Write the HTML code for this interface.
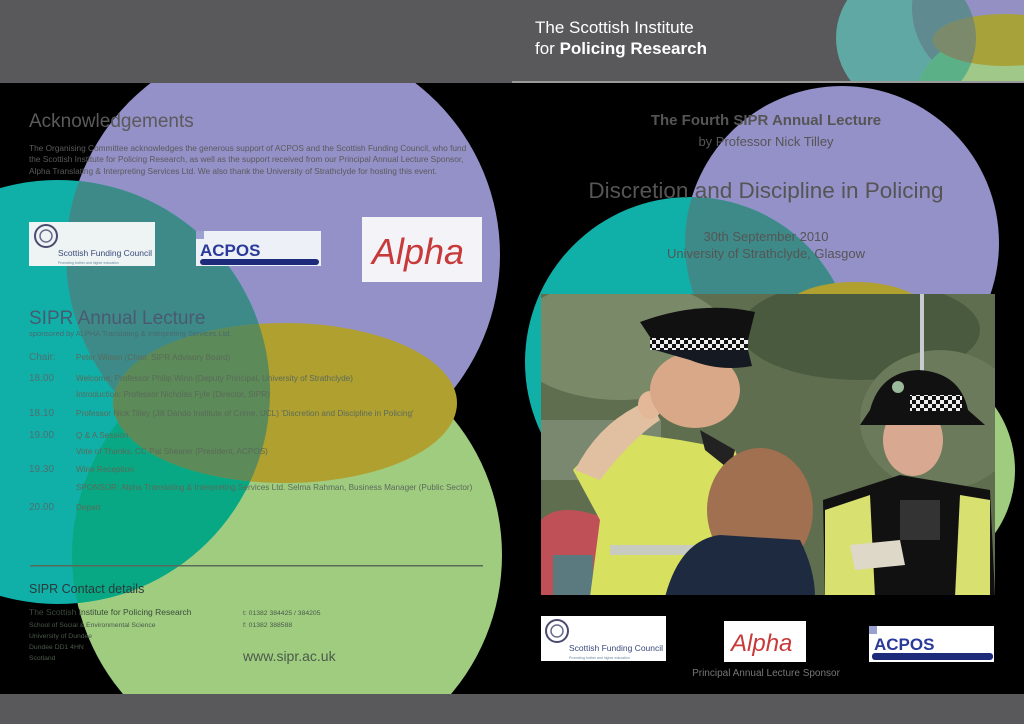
<!DOCTYPE html>
<html><head><meta charset="utf-8"><style>
html,body{margin:0;padding:0;background:#000;width:1024px;height:724px;overflow:hidden;}
svg{display:block;}
text{font-family:"Liberation Sans",sans-serif;}
</style></head><body>
<svg width="1024" height="724" viewBox="0 0 1024 724" xmlns="http://www.w3.org/2000/svg">
<defs>
<clipPath id="leftPage"><rect x="0" y="83" width="512" height="611"/></clipPath>
<clipPath id="cTeal"><circle cx="58" cy="392" r="212"/></clipPath>
<clipPath id="rightPage"><rect x="512" y="83" width="512" height="611"/></clipPath>
<clipPath id="cTealR"><circle cx="690" cy="362" r="165"/></clipPath>
<clipPath id="topR"><rect x="512" y="0" width="512" height="82"/></clipPath>
<clipPath id="tTeal"><circle cx="906" cy="38" r="70"/></clipPath>
<clipPath id="photo"><rect x="541" y="294" width="454" height="301"/></clipPath>
<pattern id="chk" x="0" y="0" width="8" height="8" patternUnits="userSpaceOnUse">
 <rect width="8" height="8" fill="#eee"/><rect width="4" height="4" fill="#111"/><rect x="4" y="4" width="4" height="4" fill="#111"/>
</pattern>
</defs>
<rect width="1024" height="724" fill="#000"/>
<rect x="0" y="0" width="1024" height="83" fill="#59595b"/>
<g clip-path="url(#topR)">
 <circle cx="906" cy="38" r="70" fill="#5fa8a4"/>
 <circle cx="990" cy="8" r="78" fill="#9490c4"/>
 <g clip-path="url(#tTeal)"><circle cx="990" cy="8" r="78" fill="#5f8a90"/></g>
 <circle cx="990" cy="112" r="78" fill="#a0c888"/>
 <g clip-path="url(#tTeal)"><circle cx="990" cy="112" r="78" fill="#5cb088"/></g>
 <ellipse cx="1005" cy="40" rx="72" ry="26" fill="#a8a23a"/>
 <g clip-path="url(#tTeal)"><ellipse cx="1005" cy="40" rx="72" ry="26" fill="#7a8a6a"/></g>
</g>
<rect x="512" y="81" width="512" height="2" fill="#9a9a9a"/>
<text x="535" y="33" font-size="17" fill="#fff">The Scottish Institute</text>
<text x="535" y="54" font-size="17" fill="#fff">for <tspan font-weight="bold">Policing Research</tspan></text>
<rect x="0" y="694" width="1024" height="30" fill="#59595b"/>

<g clip-path="url(#leftPage)">
 <circle cx="283" cy="255" r="217" fill="#9490c8"/>
 <circle cx="287" cy="555" r="215" fill="#a0cc80"/>
 <circle cx="58" cy="392" r="212" fill="#10b0a8"/>
 <g clip-path="url(#cTeal)">
  <circle cx="283" cy="255" r="217" fill="#3e8a88"/>
  <circle cx="287" cy="555" r="215" fill="#08a884"/>
 </g>
 <ellipse cx="285" cy="403" rx="172" ry="80" fill="#b0a030"/>
 <g clip-path="url(#cTeal)"><ellipse cx="285" cy="403" rx="172" ry="80" fill="#5c8a58"/></g>
 <rect x="30" y="565" width="453" height="1.5" fill="#5a6a5a"/>
</g>

<text x="29" y="127" font-size="19" fill="#5a5a5a">Acknowledgements</text>
<g font-size="8.3" fill="#5a5a5a">
<text x="29" y="151">The Organising Committee acknowledges the generous support of ACPOS and the Scottish Funding Council, who fund</text>
<text x="29" y="162">the Scottish Institute for Policing Research, as well as the support received from our Principal Annual Lecture Sponsor,</text>
<text x="29" y="174">Alpha Translating &amp; Interpreting Services Ltd. We also thank the University of Strathclyde for hosting this event.</text>
</g>
<rect x="29" y="222" width="126" height="44" fill="#eef3f3"/>
<circle cx="46" cy="236" r="11" fill="none" stroke="#4a4a70" stroke-width="2"/>
<circle cx="46" cy="236" r="6" fill="none" stroke="#6a6a90" stroke-width="1.5"/>
<text x="58" y="256" font-size="8.5" fill="#3a4a7a">Scottish Funding Council</text>
<text x="58" y="264" font-size="3.5" fill="#6a8aa0">Promoting further and higher education</text>
<rect x="196" y="231" width="125" height="35" fill="#eef0f8"/>
<rect x="196" y="231" width="8" height="8" fill="#9aa0d0"/>
<text x="200" y="256" font-size="17" font-weight="bold" fill="#2a3a9a">ACPOS</text>
<rect x="200" y="259" width="119" height="6" rx="3" fill="#1e2a7a"/>
<rect x="362" y="217" width="120" height="65" fill="#f3f3f8"/>
<text x="372" y="264" font-size="36" font-style="italic" font-family="Liberation Serif,serif" fill="#c83a3a">Alpha</text>

<text x="29" y="324" font-size="19" fill="#4a5a70">SIPR Annual Lecture</text>
<text x="29" y="336" font-size="7.5" fill="#4a6a70">sponsored by ALPHA Translating &amp; Interpreting Services Ltd.</text>
<g font-size="10" fill="#4f6f70">
<text x="29" y="360">Chair:</text>
<text x="29" y="381">18.00</text>
<text x="29" y="416">18.10</text>
<text x="29" y="438">19.00</text>
<text x="29" y="472">19.30</text>
<text x="29" y="510">20.00</text>
</g>
<g font-size="8.2" fill="#5a6a5a">
<text x="76" y="360">Peter Wilson (Chair, SIPR Advisory Board)</text>
<text x="76" y="381">Welcome, Professor Philip Winn (Deputy Principal, University of Strathclyde)</text>
<text x="76" y="397">Introduction: Professor Nicholas Fyfe (Director, SIPR)</text>
<text x="76" y="416">Professor Nick Tilley (Jill Dando Institute of Crime, UCL) 'Discretion and Discipline in Policing'</text>
<text x="76" y="438">Q &amp; A Session</text>
<text x="76" y="454">Vote of Thanks, CC Pat Shearer (President, ACPOS)</text>
<text x="76" y="472">Wine Reception</text>
<text x="76" y="490">SPONSOR: Alpha Translating &amp; Interpreting Services Ltd. Selma Rahman, Business Manager (Public Sector)</text>
<text x="76" y="510">Depart</text>
</g>

<text x="29" y="593" font-size="12.5" fill="#2a3a3a">SIPR Contact details</text>
<text x="29" y="615" font-size="8.5" fill="#3a4a3a">The Scottish Institute for Policing Research</text>
<g font-size="6.8" fill="#4a5a4a">
<text x="29" y="627">School of Social &amp; Environmental Science</text>
<text x="29" y="638">University of Dundee</text>
<text x="29" y="649">Dundee DD1 4HN</text>
<text x="29" y="660">Scotland</text>
<text x="243" y="615">t: 01382 384425 / 384205</text>
<text x="243" y="627">f: 01382 388588</text>
</g>
<text x="243" y="661" font-size="14" fill="#4a5a4a">www.sipr.ac.uk</text>

<g clip-path="url(#rightPage)">
 <circle cx="842" cy="243" r="157" fill="#9490c8"/>
 <circle cx="690" cy="362" r="165" fill="#10b0a8"/>
 <g clip-path="url(#cTealR)"><circle cx="842" cy="243" r="157" fill="#3e8a88"/></g>
 <ellipse cx="855" cy="310" rx="70" ry="28" fill="#b0a030"/>
 <circle cx="905" cy="470" r="110" fill="#a0cc80"/>
</g>
<text x="766" y="125" font-size="15" font-weight="bold" text-anchor="middle" fill="#555">The Fourth SIPR Annual Lecture</text>
<text x="766" y="146" font-size="13" text-anchor="middle" fill="#555">by Professor Nick Tilley</text>
<text x="766" y="198" font-size="22.5" text-anchor="middle" fill="#555">Discretion and Discipline in Policing</text>
<text x="766" y="241" font-size="13" text-anchor="middle" fill="#555">30th September 2010</text>
<text x="766" y="258" font-size="13" text-anchor="middle" fill="#555">University of Strathclyde, Glasgow</text>

<g clip-path="url(#photo)">
 <rect x="541" y="294" width="454" height="301" fill="#5f6e4e"/>
 <ellipse cx="620" cy="340" rx="110" ry="60" fill="#7a8a68"/>
 <ellipse cx="860" cy="330" rx="120" ry="50" fill="#4a5a3e"/>
 <ellipse cx="940" cy="420" rx="80" ry="70" fill="#6a7a5a"/>
 <rect x="541" y="420" width="120" height="60" fill="#7a8870"/>
 <rect x="920" y="294" width="4" height="80" fill="#c8ccd0"/>
 <path d="M541 520 Q560 500 610 520 L610 595 L541 595Z" fill="#c05058"/>
 <rect x="553" y="555" width="40" height="40" fill="#5a7a80"/>
 <path d="M573 470 L610 430 L680 440 L735 450 L760 520 L740 597 L590 597 L600 520 Z" fill="#d8e060"/>
 <path d="M575 470 Q600 420 650 400 L660 420 Q630 440 600 480 Z" fill="#e0c0a0"/>
 <ellipse cx="650" cy="405" rx="12" ry="14" fill="#e2b898"/>
 <path d="M700 430 L735 450 L730 470 L705 450 Z" fill="#222"/>
 <ellipse cx="695" cy="390" rx="45" ry="38" fill="#d8a888"/>
 <path d="M640 322 Q700 300 755 312 L748 340 L652 340 Z" fill="#111"/>
 <rect x="650" y="338" width="98" height="12" fill="url(#chk)"/>
 <path d="M655 350 L748 350 L752 366 Q720 372 690 360 Z" fill="#151a22"/>
 <rect x="610" y="545" width="130" height="10" fill="#c8ccc0"/>
 <path d="M823 500 L900 475 L990 490 L995 597 L825 597 Z" fill="#111"/>
 <path d="M825 510 L870 495 L875 597 L825 597 Z" fill="#d8e070"/>
 <path d="M960 495 L990 500 L990 597 L955 597 Z" fill="#d8e070"/>
 <ellipse cx="913" cy="440" rx="30" ry="36" fill="#d8a890"/>
 <path d="M870 410 Q880 372 918 370 Q960 372 968 410 L985 425 L860 425 Z" fill="#111"/>
 <rect x="910" y="395" width="52" height="16" fill="url(#chk)"/>
 <circle cx="898" cy="387" r="6" fill="#9ab89a"/>
 <rect x="900" y="500" width="40" height="40" fill="#333"/>
 <path d="M850 545 L900 540 L905 565 L855 570 Z" fill="#ddd8c8"/>
 <ellipse cx="760" cy="510" rx="53" ry="62" fill="#a07050"/>
 <path d="M665 597 Q680 540 720 535 L800 540 Q815 570 815 597 Z" fill="#1e2a40"/>
</g>

<rect x="541" y="616" width="125" height="45" fill="#fff"/>
<circle cx="557" cy="631" r="11" fill="none" stroke="#4a4a70" stroke-width="2"/>
<circle cx="557" cy="631" r="6" fill="none" stroke="#6a6a90" stroke-width="1.5"/>
<text x="569" y="651" font-size="8.5" fill="#3a4a7a">Scottish Funding Council</text>
<text x="569" y="659" font-size="3.5" fill="#6a8aa0">Promoting further and higher education</text>
<rect x="724" y="621" width="82" height="41" fill="#fff"/>
<text x="731" y="651" font-size="24" font-style="italic" font-family="Liberation Serif,serif" fill="#c83a3a">Alpha</text>
<rect x="869" y="626" width="125" height="36" fill="#fff"/>
<rect x="869" y="626" width="8" height="8" fill="#9aa0d0"/>
<text x="874" y="650" font-size="17" font-weight="bold" fill="#2a3a9a">ACPOS</text>
<rect x="872" y="653" width="121" height="7" rx="3" fill="#1e2a7a"/>
<text x="766" y="676" font-size="10" text-anchor="middle" fill="#777">Principal Annual Lecture Sponsor</text>
</svg>
</body></html>
